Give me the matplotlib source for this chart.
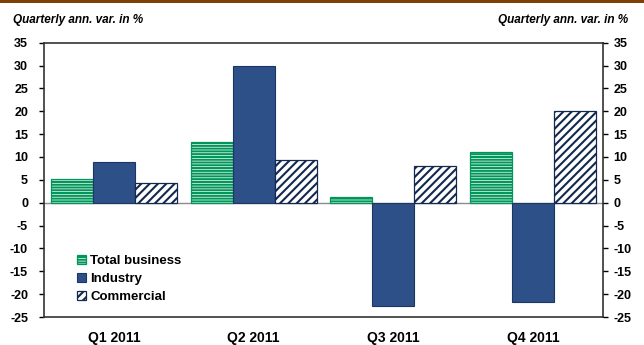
import matplotlib
matplotlib.use("Agg")
import matplotlib.pyplot as plt
from matplotlib.patches import Rectangle
import numpy as np

categories = ["Q1 2011", "Q2 2011", "Q3 2011", "Q4 2011"]
total_business = [5.1, 13.2, 1.2, 11.1]
industry = [8.8, 30.0, -22.6, -21.8]
commercial = [4.4, 9.4, 8.1, 20.0]
y_ticks = list(range(-25, 40, 5))

COLORS = {
    "brown": "#7F3F05",
    "green": "#00965A",
    "navy": "#2E5088",
    "navy_edge": "#1C3562",
    "hatch_navy": "#13284F",
    "axis": "#333333",
    "zero": "#8C8C8C",
}

plt.rcParams["font.family"] = ["Liberation Sans", "DejaVu Sans"]
plt.rcParams["font.weight"] = "bold"
plt.rcParams["axes.unicode_minus"] = False
plt.rcParams["hatch.linewidth"] = 1.5

fig = plt.figure(figsize=(6.44, 3.45), dpi=100, facecolor="white")
fig.add_artist(Rectangle((0, 1 - 3 / 345), 1, 3 / 345, transform=fig.transFigure,
                         facecolor=COLORS["brown"], edgecolor="none"))

ax = fig.add_axes([44 / 644, 1 - 317 / 345, 559 / 644, 274.3 / 345])
x = np.arange(len(categories))
w = 0.3

ax.bar(x - w, total_business, width=w, facecolor="white", edgecolor=COLORS["green"],
       hatch="------", linewidth=0.9, label="Total business", zorder=2)
ax.bar(x, industry, width=w, facecolor=COLORS["navy"], edgecolor=COLORS["navy_edge"],
       linewidth=0.8, label="Industry", zorder=2)
ax.bar(x + w, commercial, width=w, facecolor="white", edgecolor=COLORS["hatch_navy"],
       hatch="////", linewidth=0.9, label="Commercial", zorder=2)

ax.axhline(0, color=COLORS["zero"], linewidth=1.0, zorder=1)

ax.set_xlim(-0.5, 3.5)
ax.set_ylim(-25, 35)
ax.set_yticks(y_ticks)
ax.set_xticks(x)
ax.set_xticklabels(categories, fontsize=10, fontweight="bold")
ax.tick_params(axis="x", length=0, pad=10)
ax.tick_params(axis="y", direction="out", length=3.5, width=1.0, labelsize=9,
               pad=8, colors="black")
for s in ax.spines.values():
    s.set_color(COLORS["axis"])
    s.set_linewidth(1.2)

ax2 = ax.twinx()
ax2.set_ylim(-25, 35)
ax2.set_yticks(y_ticks)
ax2.tick_params(axis="y", direction="out", length=3.5, width=1.0, labelsize=9, pad=4)
for s in ax2.spines.values():
    s.set_visible(False)
for lbl in ax.get_yticklabels() + ax2.get_yticklabels():
    lbl.set_fontweight("bold")

leg = ax.legend(loc="lower left", bbox_to_anchor=(0.05, 0.03), frameon=False,
                fontsize=9.5, handlelength=0.7, handleheight=0.7, handletextpad=0.3,
                labelspacing=0.45, borderaxespad=0)
for t in leg.get_texts():
    t.set_fontweight("bold")

fig.text(13 / 644, 1 - 20 / 345, "Quarterly ann. var. in %", fontsize=8.5, fontweight="bold",
         style="italic", ha="left", va="center")
fig.text(628 / 644, 1 - 20 / 345, "Quarterly ann. var. in %", fontsize=8.5, fontweight="bold",
         style="italic", ha="right", va="center")

fig.savefig("out.png", dpi=100, facecolor="white")
